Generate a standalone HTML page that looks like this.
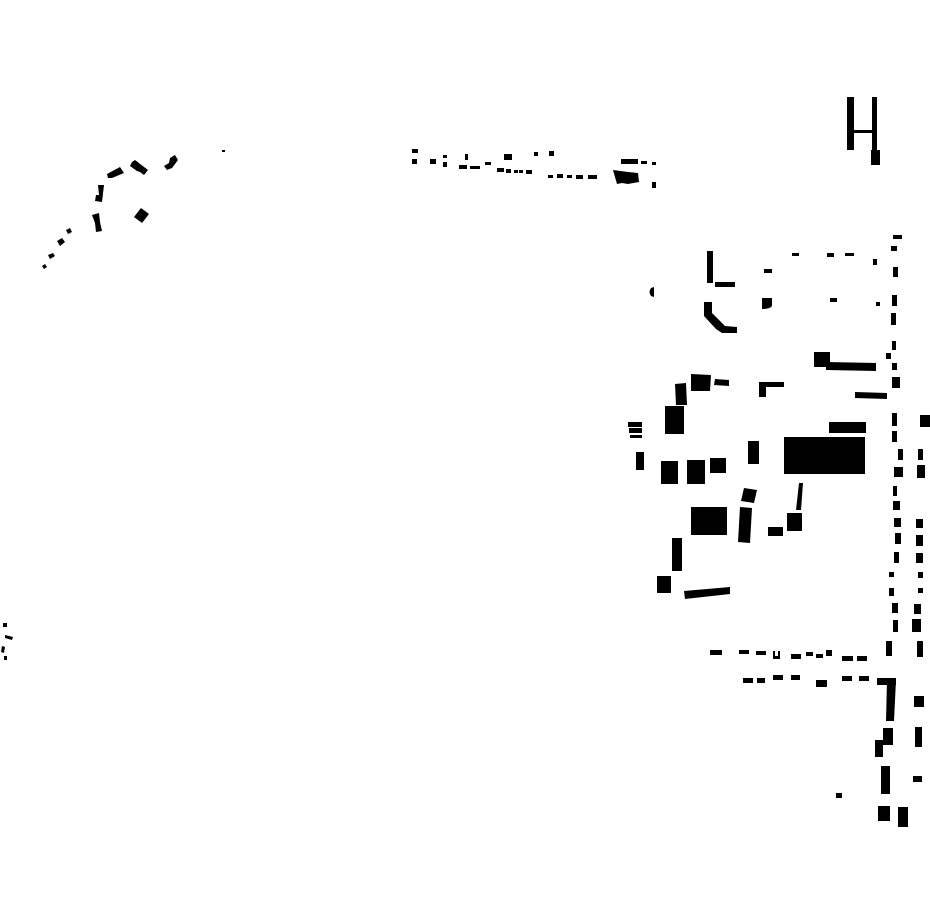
<!DOCTYPE html>
<html><head><meta charset="utf-8"><style>html,body{margin:0;padding:0;background:#fff}svg{display:block}</style></head>
<body>
<svg width="930" height="924" viewBox="0 0 930 924" xmlns="http://www.w3.org/2000/svg" fill="#000">
<polygon points="170,158 175,155 178,160 172,168 167,170 164,166 169,163"/>
<polygon points="132,162 135,160 148,170 144,175 140,172 137,171 130,166"/>
<polygon points="107,174 120,167 124,173 112,178 108,178"/>
<polygon points="98,185 104,185 102,202 95,201 96,195 99,195"/>
<polygon points="92,215 99,213 100,222 102,231 96,232 95,223"/>
<polygon points="141,208 149,214 142,223 134,217"/>
<rect x="222" y="150" width="3" height="2"/>
<polygon points="66,230 70,228 72,232 68,234"/>
<polygon points="57,241 62,238 65,242 60,246"/>
<polygon points="48,255 53,253 55,256 50,259"/>
<polygon points="42,266 45,264 47,267 44,269"/>
<rect x="412" y="149" width="6" height="4"/>
<rect x="412" y="159" width="5" height="5"/>
<rect x="430" y="159" width="6" height="5"/>
<rect x="443" y="155" width="4" height="3"/>
<rect x="443" y="162" width="4" height="5"/>
<rect x="465" y="154" width="3" height="6"/>
<rect x="459" y="165" width="8" height="4"/>
<rect x="470" y="166" width="10" height="3"/>
<rect x="485" y="162" width="6" height="3"/>
<rect x="504" y="154" width="8" height="6"/>
<rect x="497" y="168" width="7" height="4"/>
<rect x="506" y="169" width="5" height="4"/>
<rect x="514" y="170" width="4" height="3"/>
<rect x="519" y="170" width="4" height="3"/>
<rect x="526" y="170" width="6" height="4"/>
<rect x="534" y="152" width="4" height="4"/>
<rect x="549" y="151" width="5" height="5"/>
<rect x="548" y="175" width="5" height="3"/>
<rect x="557" y="174" width="6" height="4"/>
<rect x="567" y="175" width="5" height="3"/>
<rect x="576" y="175" width="7" height="4"/>
<rect x="588" y="175" width="9" height="4"/>
<rect x="621" y="159" width="17" height="5"/>
<rect x="641" y="161" width="6" height="3"/>
<rect x="652" y="162" width="4" height="3"/>
<polygon points="613,170 628,172 638,173 639,182 628,184 622,183 617,184 615,177"/>
<rect x="652" y="182" width="4" height="6"/>
<rect x="847" y="97" width="7" height="53"/>
<rect x="872" y="97" width="5" height="53"/>
<rect x="854" y="130" width="18" height="3"/>
<rect x="871" y="150" width="9" height="15"/>
<rect x="893" y="235" width="9" height="4"/>
<rect x="891" y="246" width="6" height="5"/>
<rect x="893" y="267" width="5" height="10"/>
<rect x="892" y="295" width="5" height="11"/>
<rect x="891" y="313" width="5" height="12"/>
<rect x="892" y="341" width="4" height="9"/>
<rect x="886" y="353" width="5" height="6"/>
<rect x="892" y="363" width="5" height="7"/>
<rect x="892" y="377" width="8" height="11"/>
<rect x="892" y="413" width="5" height="13"/>
<rect x="892" y="431" width="5" height="11"/>
<rect x="898" y="449" width="5" height="11"/>
<rect x="894" y="467" width="9" height="10"/>
<rect x="893" y="486" width="4" height="10"/>
<rect x="893" y="501" width="7" height="9"/>
<rect x="894" y="518" width="7" height="9"/>
<rect x="895" y="533" width="6" height="11"/>
<rect x="894" y="552" width="5" height="11"/>
<rect x="889" y="572" width="5" height="5"/>
<rect x="889" y="588" width="5" height="8"/>
<rect x="892" y="603" width="6" height="10"/>
<rect x="920" y="415" width="10" height="12"/>
<rect x="918" y="449" width="5" height="11"/>
<rect x="917" y="465" width="8" height="13"/>
<rect x="916" y="519" width="7" height="9"/>
<rect x="916" y="535" width="7" height="11"/>
<rect x="916" y="553" width="7" height="10"/>
<rect x="918" y="572" width="5" height="6"/>
<rect x="918" y="588" width="5" height="5"/>
<rect x="914" y="604" width="7" height="10"/>
<rect x="893" y="620" width="5" height="12"/>
<rect x="912" y="619" width="9" height="13"/>
<rect x="886" y="641" width="6" height="15"/>
<rect x="917" y="641" width="6" height="16"/>
<rect x="792" y="253" width="7" height="3"/>
<rect x="827" y="253" width="7" height="4"/>
<rect x="845" y="253" width="9" height="3"/>
<rect x="873" y="259" width="4" height="6"/>
<rect x="764" y="269" width="8" height="4"/>
<rect x="707" y="251" width="6" height="32"/>
<rect x="715" y="282" width="20" height="5"/>
<path d="M654,287 L654,297 L651,296 Q648,292 651,288 Z"/>
<path d="M762,298 L772,298 L772,306 Q770,309 762,309 Z"/>
<rect x="830" y="298" width="7" height="4"/>
<rect x="876" y="302" width="4" height="4"/>
<polygon points="704,302 712,302 712,313 725,326 737,327 737,333 722,333 716,329 704,316"/>
<rect x="814" y="352" width="16" height="15"/>
<polygon points="826,362 876,363 876,371 826,370"/>
<polygon points="855,392 887,393 887,399 855,398"/>
<rect x="759" y="382" width="7" height="15"/>
<rect x="766" y="382" width="18" height="5"/>
<polygon points="675,384 686,383 687,405 676,405"/>
<polygon points="691,374 711,375 710,391 691,391"/>
<polygon points="715,379 729,380 729,386 714,385"/>
<rect x="665" y="406" width="19" height="28"/>
<rect x="628" y="422" width="14" height="5"/>
<rect x="629" y="428" width="13" height="5"/>
<rect x="630" y="435" width="12" height="3"/>
<rect x="636" y="452" width="8" height="18"/>
<rect x="661" y="461" width="17" height="23"/>
<rect x="687" y="460" width="18" height="24"/>
<rect x="710" y="458" width="16" height="15"/>
<rect x="748" y="441" width="11" height="23"/>
<rect x="829" y="422" width="37" height="11"/>
<rect x="784" y="437" width="81" height="37"/>
<polygon points="799,483 803,483 801,510 796,510"/>
<polygon points="744,488 757,490 754,503 741,501"/>
<polygon points="740,507 752,508 750,543 738,542"/>
<rect x="691" y="507" width="36" height="28"/>
<rect x="768" y="527" width="15" height="9"/>
<rect x="787" y="513" width="15" height="18"/>
<rect x="672" y="538" width="10" height="33"/>
<rect x="657" y="576" width="14" height="17"/>
<polygon points="684,591 730,587 730,594 685,599"/>
<rect x="710" y="650" width="12" height="5"/>
<rect x="739" y="650" width="10" height="4"/>
<rect x="756" y="651" width="10" height="4"/>
<path d="M773,651 h7 v8 h-7 Z M775,651 v5 h3 v-5 Z" fill-rule="evenodd"/>
<rect x="791" y="654" width="10" height="5"/>
<rect x="806" y="652" width="7" height="4"/>
<rect x="816" y="654" width="7" height="4"/>
<rect x="826" y="650" width="6" height="6"/>
<rect x="842" y="656" width="11" height="5"/>
<rect x="857" y="656" width="10" height="5"/>
<rect x="743" y="678" width="10" height="5"/>
<rect x="757" y="678" width="8" height="5"/>
<rect x="773" y="675" width="10" height="5"/>
<rect x="791" y="675" width="9" height="5"/>
<rect x="816" y="680" width="11" height="7"/>
<rect x="842" y="676" width="10" height="5"/>
<rect x="859" y="676" width="10" height="5"/>
<rect x="877" y="678" width="19" height="7"/>
<polygon points="887,680 896,680 894,721 886,721"/>
<rect x="914" y="696" width="10" height="11"/>
<rect x="883" y="728" width="10" height="17"/>
<rect x="875" y="740" width="8" height="17"/>
<rect x="915" y="727" width="7" height="20"/>
<rect x="881" y="766" width="9" height="28"/>
<rect x="913" y="776" width="9" height="6"/>
<rect x="836" y="793" width="6" height="5"/>
<rect x="878" y="806" width="12" height="15"/>
<rect x="898" y="807" width="10" height="20"/>
<rect x="3" y="623" width="4" height="4"/>
<polygon points="5,635 13,637 12,640 5,638"/>
<polygon points="2,646 5,647 4,653 1,652"/>
<rect x="4" y="656" width="3" height="4"/>
</svg>
</body></html>
